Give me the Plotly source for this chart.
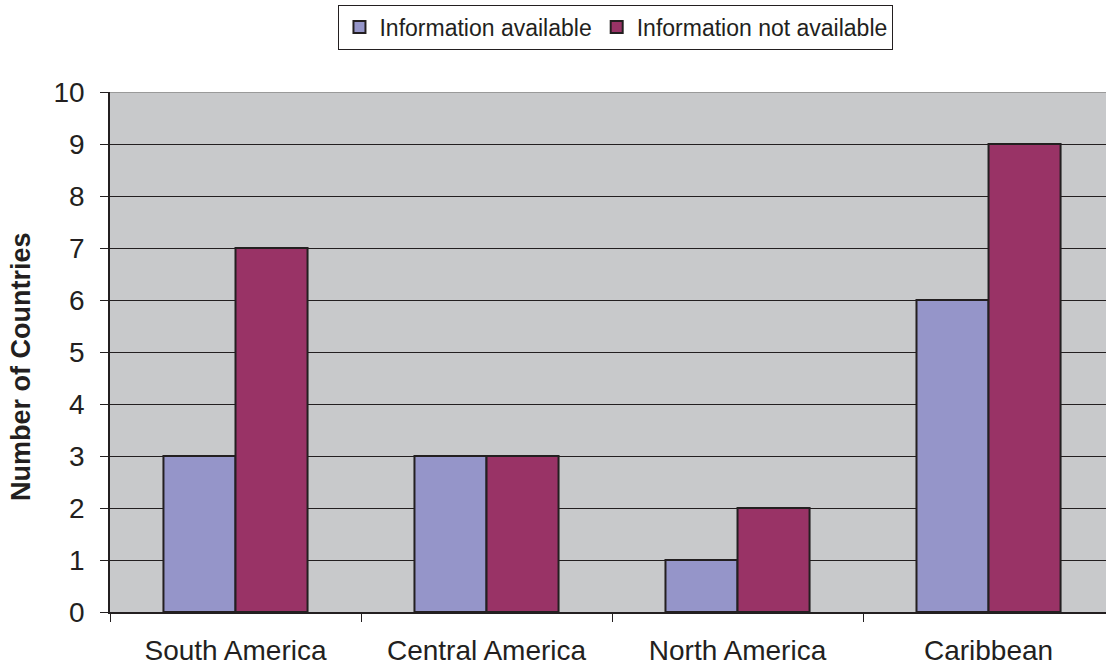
import plotly.graph_objects as go

regions = ["South America", "Central America", "North America", "Caribbean"]
info_available = [3, 3, 1, 6]
info_not_available = [7, 3, 2, 9]
y_ticks = list(range(0, 11))

INK = "#231F20"
FONT = "Liberation Sans, Arial, sans-serif"

fig = go.Figure()
fig.add_trace(go.Bar(
    x=regions, y=info_available, name="Information available",
    marker=dict(color="#9595C9", line=dict(color=INK, width=2)),
))
fig.add_trace(go.Bar(
    x=regions, y=info_not_available, name="Information not available",
    marker=dict(color="#993366", line=dict(color=INK, width=2)),
))

# grey top border of the plotting area
fig.add_shape(type="line", xref="paper", yref="y", x0=0, x1=1, y0=10, y1=10,
              line=dict(color="#9A9A9A", width=2), layer="above")

# y-axis title, placed as a rotated annotation
fig.add_annotation(
    text="<b>Number of Countries</b>", textangle=-90,
    xref="paper", yref="paper", x=0, xanchor="center", xshift=-89,
    y=0.471, yanchor="middle", showarrow=False,
    font=dict(size=27, color=INK, family=FONT),
)

fig.update_layout(
    width=1106, height=669,
    margin=dict(l=110, r=0, t=92, b=57),
    paper_bgcolor="white",
    plot_bgcolor="#C8C9CB",
    barmode="group", bargap=0.426, bargroupgap=0,
    font=dict(family=FONT, color=INK),
    showlegend=True,
    legend=dict(
        orientation="h", x=0.508, xanchor="center", y=1.125, yanchor="middle",
        bgcolor="white", bordercolor=INK, borderwidth=1,
        font=dict(size=23, color=INK), itemwidth=30,
        tracegroupgap=0,
    ),
    xaxis=dict(
        range=[-0.5, 3.468],
        automargin=False,
        showgrid=False,
        showline=True, linecolor=INK, linewidth=1.5,
        ticks="outside", tickson="boundaries", ticklen=8, tickcolor=INK,
        tickfont=dict(size=28, color=INK),
        ticklabelstandoff=13,
    ),
    yaxis=dict(
        range=[0, 10],
        automargin=False,
        tickvals=y_ticks,
        showgrid=True, gridcolor=INK, gridwidth=1,
        showline=True, linecolor=INK, linewidth=1.5,
        ticks="outside", ticklen=8, tickcolor=INK,
        tickfont=dict(size=28, color=INK),
        ticklabelstandoff=10,
        zeroline=False,
    ),
)

fig.write_html("out.html")
